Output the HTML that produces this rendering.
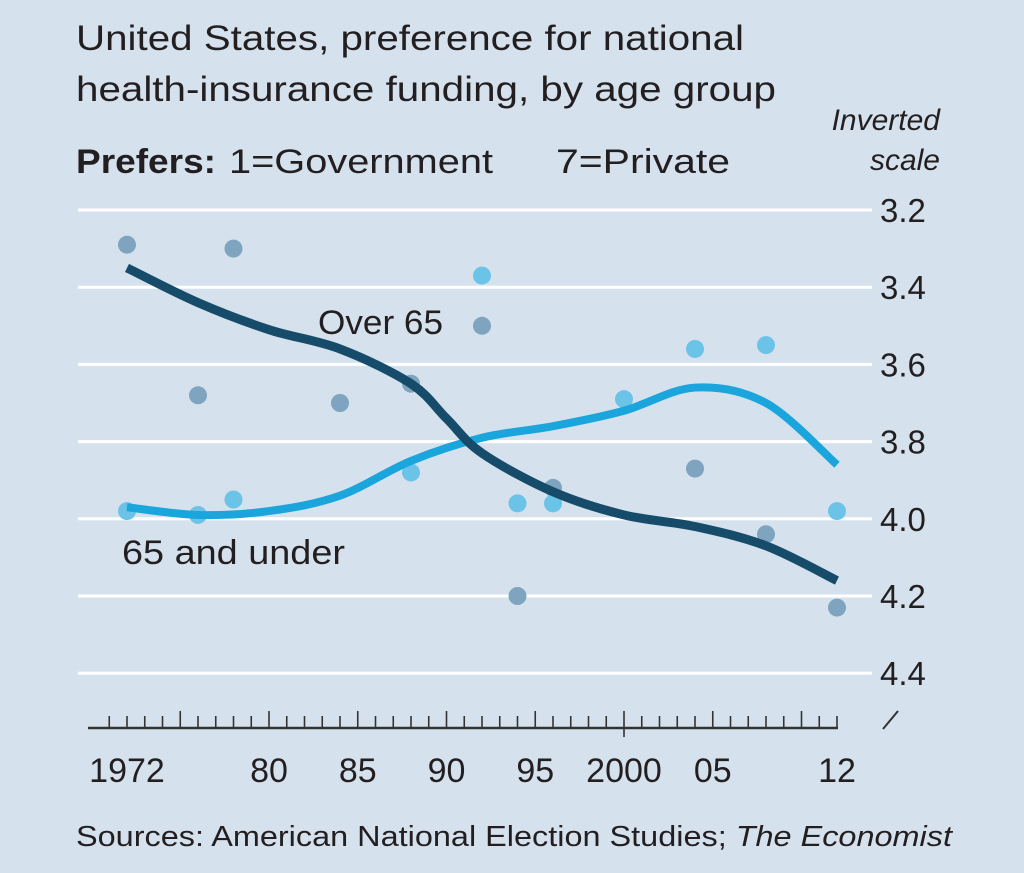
<!DOCTYPE html>
<html><head><meta charset="utf-8"><style>
html,body{margin:0;padding:0;}
body{width:1024px;height:868px;background:#d5e2ee;overflow:hidden;font-family:"Liberation Sans",sans-serif;color:#231f20;}
</style></head><body>
<svg width="1024" height="868" viewBox="0 0 1024 868" font-family="Liberation Sans, sans-serif" fill="#231f20">
<rect width="1024" height="868" fill="#d5e2ee"/>
<text x="76" y="50" font-size="35" textLength="668" lengthAdjust="spacingAndGlyphs">United States, preference for national</text>
<text x="76" y="101" font-size="35" textLength="700" lengthAdjust="spacingAndGlyphs">health-insurance funding, by age group</text>
<text x="76" y="173" font-size="34"><tspan font-weight="bold" textLength="140" lengthAdjust="spacingAndGlyphs">Prefers:</tspan><tspan x="229" textLength="264" lengthAdjust="spacingAndGlyphs">1=Government</tspan><tspan x="556" textLength="174" lengthAdjust="spacingAndGlyphs">7=Private</tspan></text>
<text x="940" y="130" font-size="30" font-style="italic" text-anchor="end">Inverted</text>
<text x="940" y="170" font-size="30" font-style="italic" text-anchor="end">scale</text>
<g id="grid"></g><g id="axis"></g><g id="dots"></g><g id="lines"></g>
<text x="318" y="334" font-size="34" textLength="125" lengthAdjust="spacingAndGlyphs">Over 65</text>
<text x="122" y="564" font-size="34" textLength="223" lengthAdjust="spacingAndGlyphs">65 and under</text>
<text x="76" y="846" font-size="29" textLength="876" lengthAdjust="spacingAndGlyphs">Sources: American National Election Studies; <tspan font-style="italic">The Economist</tspan></text>
</svg>
<script>
const yTicks=[3.2,3.4,3.6,3.8,4.0,4.2,4.4];
const xLabels=[[1972,"1972"],[1980,"80"],[1985,"85"],[1990,"90"],[1995,"95"],[2000,"2000"],[2005,"05"],[2012,"12"]];
const over65Years=[1972,1976,1978,1984,1988,1992,1994,1996,2004,2008,2012];
const over65Dots=[3.29,3.68,3.30,3.70,3.65,3.50,4.20,3.92,3.87,4.04,4.23];
const underYears=[1972,1976,1978,1988,1992,1994,1996,2000,2004,2008,2012];
const underDots=[3.98,3.99,3.95,3.88,3.37,3.96,3.96,3.69,3.56,3.55,3.98];
const over65TrendYears=[1972,1976,1980,1984,1988,1990,1992,1996,2000,2004,2008,2012];
const over65Trend=[3.35,3.44,3.51,3.56,3.65,3.74,3.83,3.93,3.99,4.02,4.07,4.16];
const underTrendYears=[1972,1976,1980,1984,1988,1992,1996,2000,2004,2008,2012];
const underTrend=[3.97,3.99,3.98,3.94,3.85,3.79,3.76,3.72,3.66,3.70,3.86];
const NS="http://www.w3.org/2000/svg";
const X=y=>127+(y-1972)*17.75;
const Y=v=>210+(v-3.2)/0.2*77.2;
function mk(t,a,p){const e=document.createElementNS(NS,t);for(const k in a)e.setAttribute(k,a[k]);p.appendChild(e);return e;}
const grid=document.getElementById('grid'),axis=document.getElementById('axis'),dots=document.getElementById('dots'),lines=document.getElementById('lines');
yTicks.forEach(v=>{
 const l=mk('line',{x1:78,x2:872,y1:Y(v),y2:Y(v),stroke:'#fff','stroke-width':3},grid);
 
 
 const t=mk('text',{x:880,y:Y(v)+12,'font-size':33},grid);t.textContent=v.toFixed(1);
 
 
});
const base=mk('line',{x1:88,x2:838,y1:728,y2:728,stroke:'#333','stroke-width':2.5},axis);


for(let yr=1971;yr<=2012;yr++){
 const maj=yr%5===0;const h=yr===2000?-9:0;
 const tk=mk('line',{x1:X(yr),x2:X(yr),y1:maj?711:716,y2:728-h,stroke:'#333','stroke-width':1.6},axis);
 
 
}
const brk=mk('path',{d:'M883 729 L893 717 L888 723 L898 711',stroke:'#333','stroke-width':2,fill:'none'},axis);


xLabels.forEach(([yr,s])=>{
 const t=mk('text',{x:X(yr),y:782,'font-size':34,'text-anchor':'middle'},axis);t.textContent=s;
 
 
});
over65Years.forEach((yr,i)=>{
 const c=mk('circle',{cx:X(yr),cy:Y(over65Dots[i]),r:9,fill:'#7fa4c0'},dots);
 
 
});
underYears.forEach((yr,i)=>{
 const c=mk('circle',{cx:X(yr),cy:Y(underDots[i]),r:9,fill:'#6cc3e8'},dots);
 
 
});
function smooth(xs,vs){
 const p=xs.map((x,i)=>[X(x),Y(vs[i])]);let d='M'+p[0][0]+' '+p[0][1];
 for(let i=0;i<p.length-1;i++){const p0=p[i-1]||p[i],p1=p[i],p2=p[i+1],p3=p[i+2]||p2;
  d+=` C${p1[0]+(p2[0]-p0[0])/6} ${p1[1]+(p2[1]-p0[1])/6} ${p2[0]-(p3[0]-p1[0])/6} ${p2[1]-(p3[1]-p1[1])/6} ${p2[0]} ${p2[1]}`;}
 return d;}
const lu=mk('path',{d:smooth(underTrendYears,underTrend),stroke:'#1aa5dc','stroke-width':8,fill:'none','stroke-linecap':'butt'},lines);


const lo=mk('path',{d:smooth(over65TrendYears,over65Trend),stroke:'#164c6a','stroke-width':9,fill:'none','stroke-linecap':'butt'},lines);


</script>
</body></html>
